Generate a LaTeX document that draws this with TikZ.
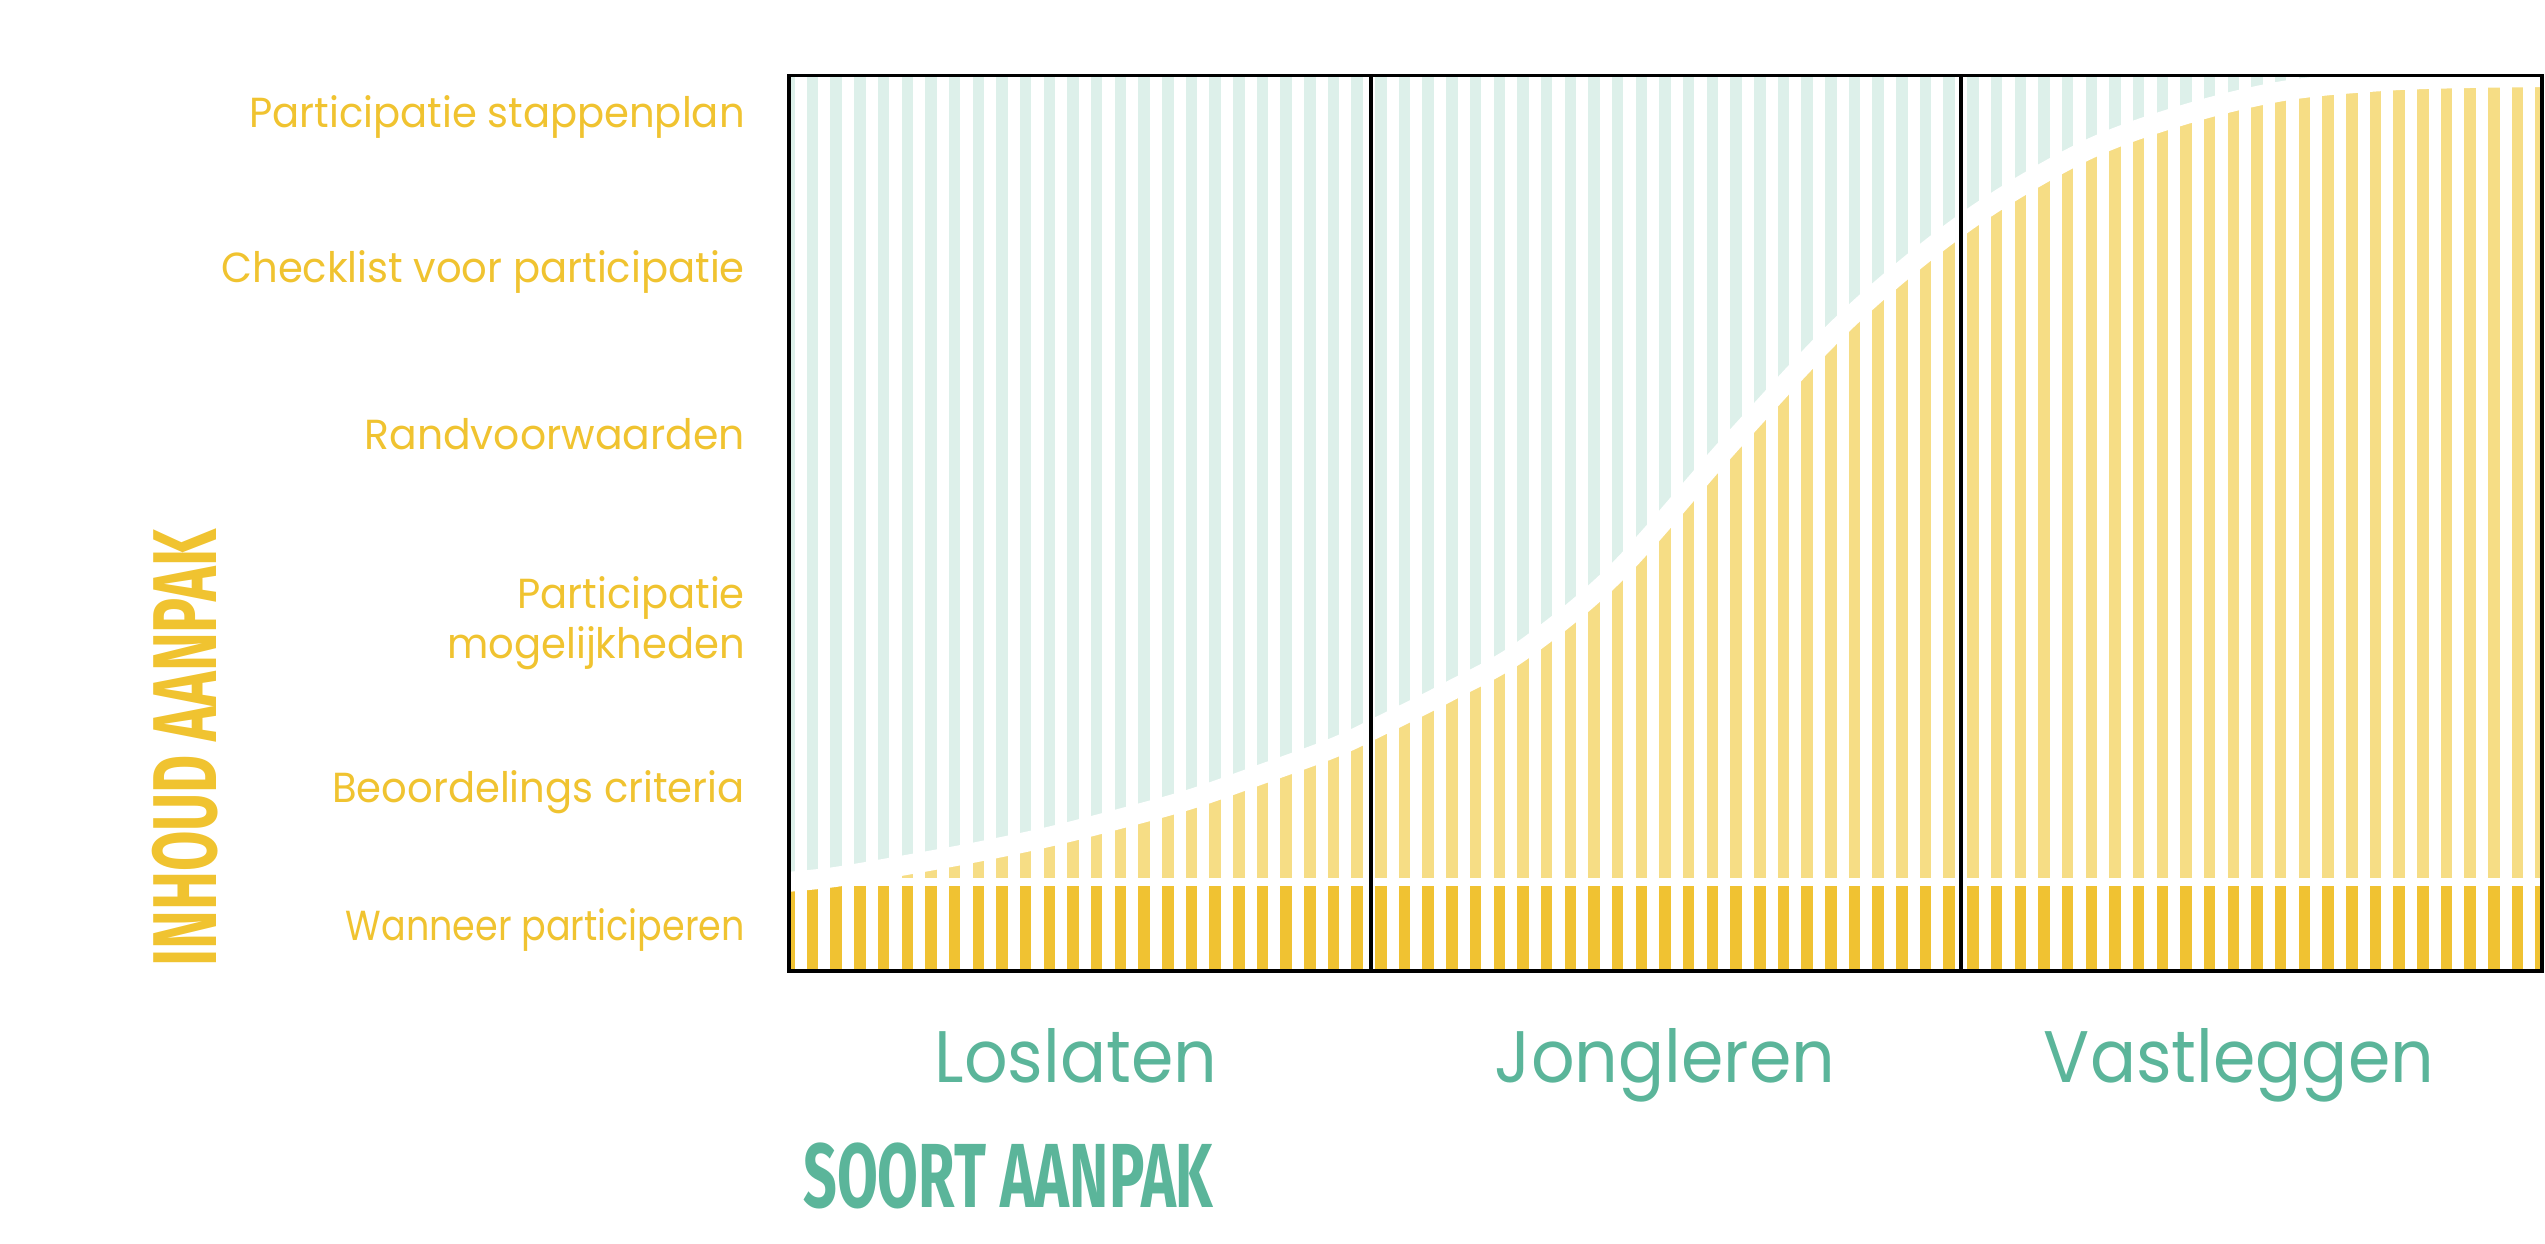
\documentclass[tikz,border=0pt]{standalone}
\usepackage{fontspec}
\newfontfamily\labelfont{Poppins}[FakeStretch=0.955]
\newfontfamily\colfont{Poppins}[FakeStretch=0.935]
\newfontfamily\headfont{Fira Sans}
\definecolor{ylw}{RGB}{240,195,48}
\definecolor{tealtxt}{RGB}{91,181,154}
\definecolor{tealstripe}{RGB}{221,240,234}
\definecolor{lightylw}{RGB}{246,221,133}
\definecolor{darkylw}{RGB}{240,194,50}
\newcommand\mycurve{plot[smooth,tension=0.55] coordinates {(770,884) (787,882) (835,877) (906,865) (977,852) (1048,837) (1119,819) (1191,799) (1262,774) (1333,748) (1380,726) (1450,691) (1523,650) (1617,572) (1733,441) (1850,317) (1967,221) (2083,152) (2183,115) (2283,91) (2383,81) (2470,78) (2560,77)}}
\newcommand\mystripes[1]{\foreach \k in {-1,...,73}{\fill[#1] ({806.8+23.68*\k},60) rectangle ++(11.5,930);}}
\tikzset{
  lbl/.style={font=\labelfont\fontsize{42}{50}\selectfont, text=ylw, anchor=base east, inner sep=0pt},
  colhead/.style={font=\colfont\fontsize{73}{80}\selectfont, text=tealtxt, anchor=base, inner sep=0pt},
  framestyle/.style={draw=black, line width=3.5pt},
}
\begin{document}
\begin{tikzpicture}[x=1pt,y=-1pt]
\useasboundingbox (0,0) rectangle (2545,1244);
\coordinate (tl) at (789,75.5);
\coordinate (br) at (2542,971);
\begin{scope}
  \clip (tl) rectangle (br);
  \mystripes{tealstripe}
  \begin{scope}
    \clip \mycurve -- (2560,1000) -- (770,1000) -- cycle;
    \mystripes{lightylw}
    \clip (770,882) rectangle (2560,1000);
    \mystripes{darkylw}
  \end{scope}
  \draw[white, line width=20pt] \mycurve;
  \draw[white, line width=8.3pt] (770,882) -- (2560,882);
\end{scope}
\draw[framestyle] (tl) rectangle (br);
\coordinate (d1t) at (1371,75.5);
\coordinate (d1b) at (1371,971);
\coordinate (d2t) at (1961,75.5);
\coordinate (d2b) at (1961,971);
\draw[framestyle] (d1t) -- (d1b);
\draw[framestyle] (d2t) -- (d2b);
% row labels
\node[lbl] (l1) at (745,128) {Participatie stappenplan};
\node[lbl] (l2) at (745,282) {Checklist voor participatie};
\node[lbl] (l3) at (745,449) {\scalebox{1.02}[1]{Randvoorwaarden}};
\node[lbl] (l4a) at (745,608) {Participatie};
\node[lbl] (l4b) at (745,658) {mogelijkheden};
\node[lbl] (l5) at (745,802) {Beoordelings criteria};
\node[lbl] (l6) at (745,940) {\scalebox{0.91}[1]{Wanneer participeren}};
% column labels
\node[colhead] (c1) at (1076,1082) {Loslaten};
\node[colhead] (c2) at (1665,1082) {Jongleren};
\node[colhead] (c3) at (2239,1082) {Vastleggen};
% axis titles
\node[anchor=base west, inner sep=0pt, text=tealtxt] (soort) at (803,1207) {\resizebox{410pt}{64.6pt}{\headfont\bfseries SOORT AANPAK}};
\node[anchor=base west, inner sep=0pt, text=ylw, rotate=90] (inhoud) at (216,967) {\resizebox{437pt}{64.3pt}{\headfont\bfseries INHOUD AANPAK}};
\end{tikzpicture}
\end{document}
